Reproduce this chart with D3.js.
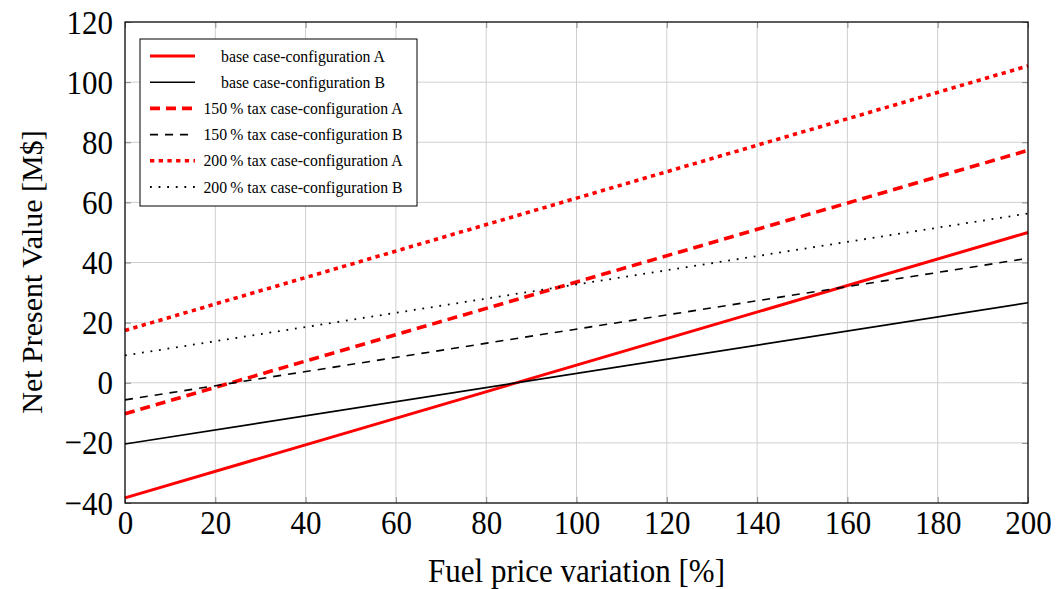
<!DOCTYPE html>
<html>
<head>
<meta charset="utf-8">
<script src="https://cdn.jsdelivr.net/npm/d3@7"></script>
<style>
  html, body { margin: 0; padding: 0; background: #fff; }
  svg text { font-family: "Liberation Serif", "Times New Roman", serif; fill: #000; }
</style>
</head>
<body>
<svg id="chart" width="1059" height="589"></svg>
<script>
// Fuel price variation [%]
const fuelVariation = [0, 200];

// Net Present Value [M$] for each scenario
const baseA   = [-38.3, 50.0];
const baseB   = [-20.4, 26.6];
const tax150A = [-10.3, 77.3];
const tax150B = [-5.7, 41.4];
const tax200A = [17.4, 105.4];
const tax200B = [9.1, 56.3];

const xTicks = [0, 20, 40, 60, 80, 100, 120, 140, 160, 180, 200];
const yTicks = [-40, -20, 0, 20, 40, 60, 80, 100, 120];

const seriesNames = [
  "base case-configuration A",
  "base case-configuration B",
  "150\u2009% tax case-configuration A",
  "150\u2009% tax case-configuration B",
  "200\u2009% tax case-configuration A",
  "200\u2009% tax case-configuration B"
];

const series = [
  { name: seriesNames[0], values: baseA,   color: "#ff0000", width: 3,   dash: null },
  { name: seriesNames[1], values: baseB,   color: "#000000", width: 1.6, dash: null },
  { name: seriesNames[2], values: tax150A, color: "#ff0000", width: 3.6, dash: "10,6" },
  { name: seriesNames[3], values: tax150B, color: "#000000", width: 1.6, dash: "8,7" },
  { name: seriesNames[4], values: tax200A, color: "#ff0000", width: 3.6, dash: "4.3,4.4" },
  { name: seriesNames[5], values: tax200B, color: "#000000", width: 1.8, dash: "1.8,6.8" }
];

const svg = d3.select("#chart");
const plotLeft = 125, plotRight = 1028, plotTop = 22, plotBottom = 503;
const stretch = 1.12; // glyphs are set slightly taller than wide

const x = d3.scaleLinear().domain([0, 200]).range([plotLeft, plotRight]);
const y = d3.scaleLinear().domain([-40, 120]).range([plotBottom, plotTop]);

// grid
const grid = svg.append("g").attr("stroke", "#cfcfcf").attr("stroke-width", 1);
grid.selectAll("line.gx").data(xTicks).join("line")
  .attr("class", "gx")
  .attr("x1", d => x(d)).attr("x2", d => x(d))
  .attr("y1", plotTop).attr("y2", plotBottom);
grid.selectAll("line.gy").data(yTicks).join("line")
  .attr("class", "gy")
  .attr("y1", d => y(d)).attr("y2", d => y(d))
  .attr("x1", plotLeft).attr("x2", plotRight);

// inward tick marks on all four sides
function styleTicks(g) {
  g.select(".domain").remove();
  g.selectAll(".tick line").attr("stroke", "#8a8a8a").attr("stroke-width", 1);
}
svg.append("g").attr("transform", `translate(0,${plotBottom})`)
  .call(d3.axisBottom(x).tickValues(xTicks).tickSize(-6).tickFormat(d3.format("d")))
  .call(styleTicks)
  .call(g => g.selectAll(".tick text")
    .attr("font-size", 31).attr("font-family", "Liberation Serif")
    .attr("y", 0).attr("dy", null)
    .attr("transform", `translate(0,31) scale(1,${stretch})`));
svg.append("g").attr("transform", `translate(0,${plotTop})`)
  .call(d3.axisTop(x).tickValues(xTicks).tickSize(-6).tickFormat(""))
  .call(styleTicks);
svg.append("g").attr("transform", `translate(${plotLeft},0)`)
  .call(d3.axisLeft(y).tickValues(yTicks).tickSize(-6)
        .tickFormat(d => d < 0 ? "\u2212" + Math.abs(d) : d))
  .call(styleTicks)
  .call(g => g.selectAll(".tick text")
    .attr("font-size", 31).attr("font-family", "Liberation Serif")
    .attr("x", 0).attr("dy", null)
    .attr("transform", `translate(-12,11) scale(1,${stretch})`));
svg.append("g").attr("transform", `translate(${plotRight},0)`)
  .call(d3.axisRight(y).tickValues(yTicks).tickSize(-6).tickFormat(""))
  .call(styleTicks);

// series lines
const line = d3.line().x((d, i) => x(fuelVariation[i])).y(d => y(d));
const plot = svg.append("g");
series.forEach(s => {
  plot.append("path")
    .datum(s.values)
    .attr("d", line)
    .attr("fill", "none")
    .attr("stroke", s.color)
    .attr("stroke-width", s.width)
    .attr("stroke-dasharray", s.dash);
});

// plot frame
svg.append("rect")
  .attr("x", plotLeft).attr("y", plotTop)
  .attr("width", plotRight - plotLeft).attr("height", plotBottom - plotTop)
  .attr("fill", "none").attr("stroke", "#000").attr("stroke-width", 1.2);

// legend
const legend = svg.append("g");
legend.append("rect")
  .attr("x", 140).attr("y", 39).attr("width", 277).attr("height", 167)
  .attr("fill", "#fff").attr("stroke", "#000").attr("stroke-width", 1);
series.forEach((s, i) => {
  const ly = 56 + i * 26.2;
  legend.append("line")
    .attr("x1", 150).attr("x2", 195).attr("y1", ly).attr("y2", ly)
    .attr("stroke", s.color).attr("stroke-width", s.width)
    .attr("stroke-dasharray", s.dash);
  legend.append("text")
    .attr("transform", `translate(303,${ly + 5.5}) scale(1,${stretch})`)
    .attr("text-anchor", "middle")
    .attr("font-size", 15.8)
    .text(s.name);
});

// axis titles
svg.append("text")
  .attr("transform", `translate(${(plotLeft + plotRight) / 2},582) scale(1,${stretch})`)
  .attr("text-anchor", "middle").attr("font-size", 31)
  .text("Fuel price variation [%]");
svg.append("text")
  .attr("transform", `translate(42,272) rotate(-90)`)
  .attr("text-anchor", "middle").attr("font-size", 30)
  .text("Net Present Value [M$]");
</script>
</body>
</html>
